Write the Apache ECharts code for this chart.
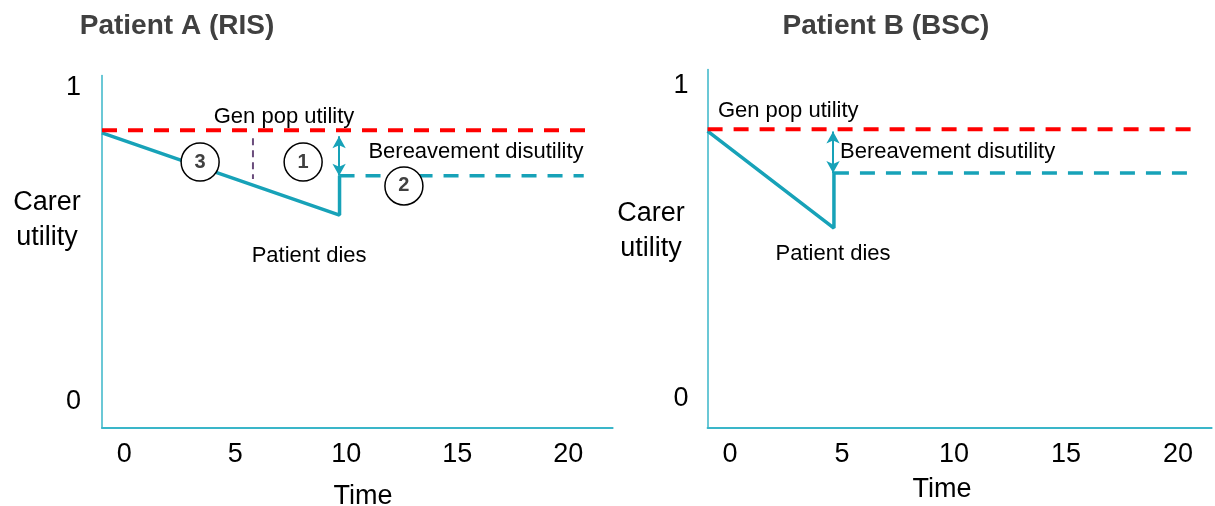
<!DOCTYPE html>
<html>
<head>
<meta charset="utf-8">
<script src="https://cdn.jsdelivr.net/npm/echarts@6/dist/echarts.min.js"></script>
<style>
html,body{margin:0;padding:0;background:#fff;}
#chart{width:1215px;height:506px;}
</style>
</head>
<body>
<div id="chart"></div>
<script>
// ---- Data ----
const xTicks = [0, 5, 10, 15, 20];
const yTicks = [0, 1];
const titles = ['Patient A (RIS)', 'Patient B (BSC)'];

// Patient A (RIS)
const aGenPop = [[-1, 0.865], [21.1, 0.865]];
const aCarer = [[-1, 0.857], [9.7, 0.595], [9.7, 0.72]];
const aBereaved = [[9.7, 0.72], [20.7, 0.72]];
const aMarker = [[5.8, 0.84], [5.8, 0.71]];
const aArrow = [[9.68, 0.846], [9.68, 0.72]];
const aCircles = [[3.42, 0.764, '3'], [8.06, 0.764, '1'], [12.6, 0.688, '2']];
const aNotes = [[7.2, 0.908, 'Gen pop utility', 'center'], [11.0, 0.796, 'Bereavement disutility', 'left'], [8.33, 0.465, 'Patient dies', 'center']];

// Patient B (BSC)
const bGenPop = [[-1, 0.859], [20.94, 0.859]];
const bCarer = [[-1, 0.853], [4.64, 0.543], [4.64, 0.719]];
const bBereaved = [[4.64, 0.719], [20.45, 0.719]];
const bArrow = [[4.6, 0.852], [4.6, 0.719]];
const bNotes = [[-0.54, 0.917, 'Gen pop utility', 'left'], [4.91, 0.786, 'Bereavement disutility', 'left'], [4.6, 0.46, 'Patient dies', 'center']];

// ---- Styles ----
const TEAL = '#17A2B8';
const AXIS = '#3AB6C9';
const RED = '#FF0000';
const FONT = '"Liberation Sans", Arial, sans-serif';

function lineSeries(idx, data, color, width, type, z) {
  return {
    type: 'line', xAxisIndex: idx, yAxisIndex: idx, data: data,
    symbol: 'none', showSymbol: false, silent: true, animation: false,
    lineStyle: { color: color, width: width, type: type, cap: 'butt' }, z: z || 2
  };
}
function arrowSeries(idx, pts) {
  return {
    type: 'line', xAxisIndex: idx, yAxisIndex: idx, data: [], symbol: 'none', silent: true, animation: false,
    markLine: {
      silent: true, animation: false, symbol: ['arrow', 'arrow'], symbolSize: [10, 12],
      label: { show: false },
      lineStyle: { color: TEAL, width: 2, type: 'solid' },
      data: [[{ coord: pts[0] }, { coord: pts[1] }]]
    }, z: 4
  };
}
function noteSeries(idx, notes) {
  return {
    type: 'scatter', xAxisIndex: idx, yAxisIndex: idx, symbolSize: 0, silent: true, animation: false,
    itemStyle: { opacity: 1 },
    data: notes.map(n => ({
      value: [n[0], n[1]], name: n[2],
      label: { show: true, position: 'inside', formatter: '{b}', align: n[3], verticalAlign: 'middle',
        fontSize: 22, fontFamily: FONT, color: '#000', textBorderWidth: 0, opacity: 1 }
    })), z: 6
  };
}
function circleSeries(idx, circles) {
  return {
    type: 'scatter', xAxisIndex: idx, yAxisIndex: idx, symbol: 'circle', symbolSize: 38, silent: true, animation: false,
    itemStyle: { color: '#fff', borderColor: '#000', borderWidth: 1.5, opacity: 1 },
    label: { show: true, position: 'inside', formatter: p => p.data.name, fontSize: 20, fontWeight: 'bold',
      fontFamily: FONT, color: '#404040', opacity: 1 },
    data: circles.map(c => ({ value: [c[0], c[1]], name: c[2] })), z: 8
  };
}
function xAxis(idx, max) {
  return {
    type: 'value', gridIndex: idx, min: -1, max: max,
    axisLine: { show: true, onZero: false, lineStyle: { color: AXIS, width: 2 } },
    axisTick: { show: false }, splitLine: { show: false },
    axisLabel: { customValues: xTicks, fontSize: 27, fontFamily: FONT, color: '#000', margin: 13 }
  };
}
function yAxis(idx, min, max, margin) {
  return {
    type: 'value', gridIndex: idx, min: min, max: max,
    axisLine: { show: true, onZero: false, lineStyle: { color: AXIS, width: 1.5 } },
    axisTick: { show: false }, splitLine: { show: false },
    axisLabel: { customValues: yTicks, fontSize: 27, fontFamily: FONT, color: '#000', margin: margin }
  };
}
function text(x, y, str, size, weight, color, lh) {
  return { type: 'text', x: x, y: y, silent: true,
    style: { text: str, fontSize: size, fontWeight: weight, fontFamily: FONT, fill: color,
      align: 'center', verticalAlign: 'middle', lineHeight: lh || size } };
}

const chart = echarts.init(document.getElementById('chart'), null, { renderer: 'canvas' });
chart.setOption({
  backgroundColor: '#fff',
  animation: false,
  grid: [
    { left: 102, top: 75.4, width: 510.6, height: 352.6, outerBoundsMode: 'none', containLabel: false },
    { left: 707.6, top: 69.4, width: 504, height: 358.4, outerBoundsMode: 'none', containLabel: false }
  ],
  xAxis: [xAxis(0, 22), xAxis(1, 21.5)],
  yAxis: [yAxis(0, -0.083, 1.04, 21), yAxis(1, -0.095, 1.05, 19)],
  graphic: [
    text(177, 26, titles[0], 28, 'bold', '#404040'),
    text(886, 26, titles[1], 28, 'bold', '#404040'),
    text(47, 220, 'Carer\nutility', 27, 'normal', '#000', 35),
    text(651, 231, 'Carer\nutility', 27, 'normal', '#000', 35),
    text(363, 497, 'Time', 27, 'normal', '#000'),
    text(942, 490, 'Time', 27, 'normal', '#000')
  ],
  series: [
    lineSeries(0, aGenPop, RED, 4, [15, 11], 3),
    lineSeries(0, aCarer, TEAL, 3.5, 'solid', 2),
    lineSeries(0, aBereaved, TEAL, 3.5, [15, 11], 2),
    lineSeries(0, aMarker, '#6A4C7C', 2, [7, 5], 2),
    arrowSeries(0, aArrow),
    noteSeries(0, aNotes),
    circleSeries(0, aCircles),
    lineSeries(1, bGenPop, RED, 4, [15, 11], 3),
    lineSeries(1, bCarer, TEAL, 3.5, 'solid', 2),
    lineSeries(1, bBereaved, TEAL, 3.5, [15, 11], 2),
    arrowSeries(1, bArrow),
    noteSeries(1, bNotes)
  ]
});
</script>
</body>
</html>
